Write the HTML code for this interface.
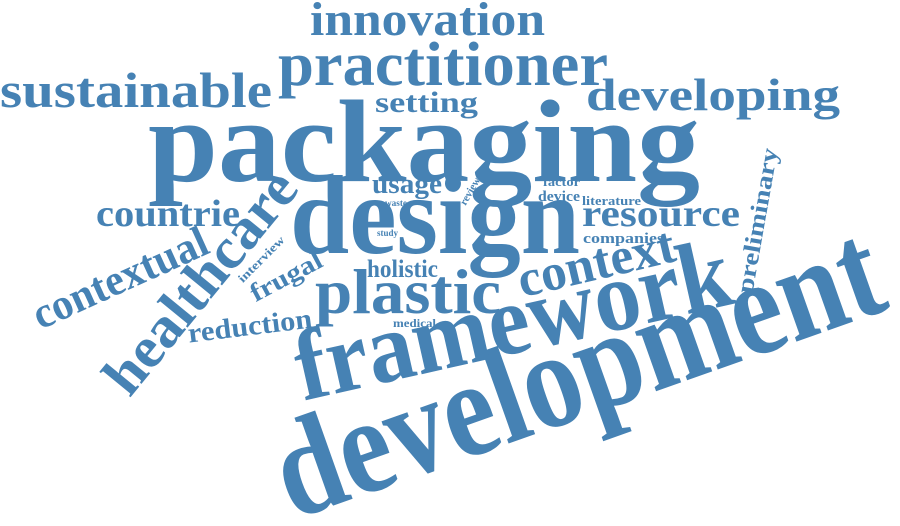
<!DOCTYPE html>
<html><head><meta charset="utf-8"><style>
html,body{margin:0;padding:0;background:#fff;}
svg{display:block}
text{font-family:"Liberation Serif",serif;font-weight:bold;fill:#4682b4;}
</style></head><body>
<svg width="900" height="526" viewBox="0 0 900 526">
<g id="words"></g>
</svg>
<script>
const words = ["innovation","practitioner","sustainable","setting","developing","packaging","usage","factor","device","literature","waste","study","design","resource","companies","countrie","holistic","plastic","medical","development","framework","context","healthcare","contextual","interview","frugal","reduction","preliminary","review"];
const sizes = [48,62,50,30,46,118,28,13,15,13,9,9,112,38,15,38,25,64,12,138,100,52,58,44,12,26,28,24,11];
const layout = [
 [310,35,0,235,0],[278,85,0,330,0],[0,107,0,272,0],[375,112,0,103,0],[586,110,0,254,0],
 [148,181,0,552,0],[372,193,0,70,0],[543,186,0,37,0],[538,201,0,42,0],[582,205,0,59,0],
 [385,206,0,22,0],[377,236,0,21,0],[290,253,0,290,0],[582,226,0,158,0],[583,243,0,81,0],
 [96,226,0,144,0],[367,277,0,71,0],[315,313,0,186,0],[393,327,0,43,0],
 [592,414,-19.5,635,1],[520,352,-12.7,444,1],[600,279,-13.3,160,1],[215,294,-50.7,270,1],
 [126,291,-24.4,188,1],[264,262,-45,60,1],[290,284,-28,78,1],[251,335,-7,125,1],
 [765,222,-80,147,1],[473,193,-60,30,1]
];
const g = document.getElementById('words');
const NS = 'http://www.w3.org/2000/svg';
words.forEach((w,i)=>{
  const [x,y,a,len,anc] = layout[i];
  const t = document.createElementNS(NS,'text');
  t.textContent = w;
  t.setAttribute('font-size', sizes[i]);
  t.setAttribute('textLength', len);
  t.setAttribute('lengthAdjust','spacingAndGlyphs');
  if(anc){
    t.setAttribute('text-anchor','middle');
    t.setAttribute('transform','translate('+x+','+y+') rotate('+a+')');
  } else {
    t.setAttribute('x', x);
    t.setAttribute('y', y);
  }
  
  
  g.appendChild(t);
});
</script>
</body></html>
